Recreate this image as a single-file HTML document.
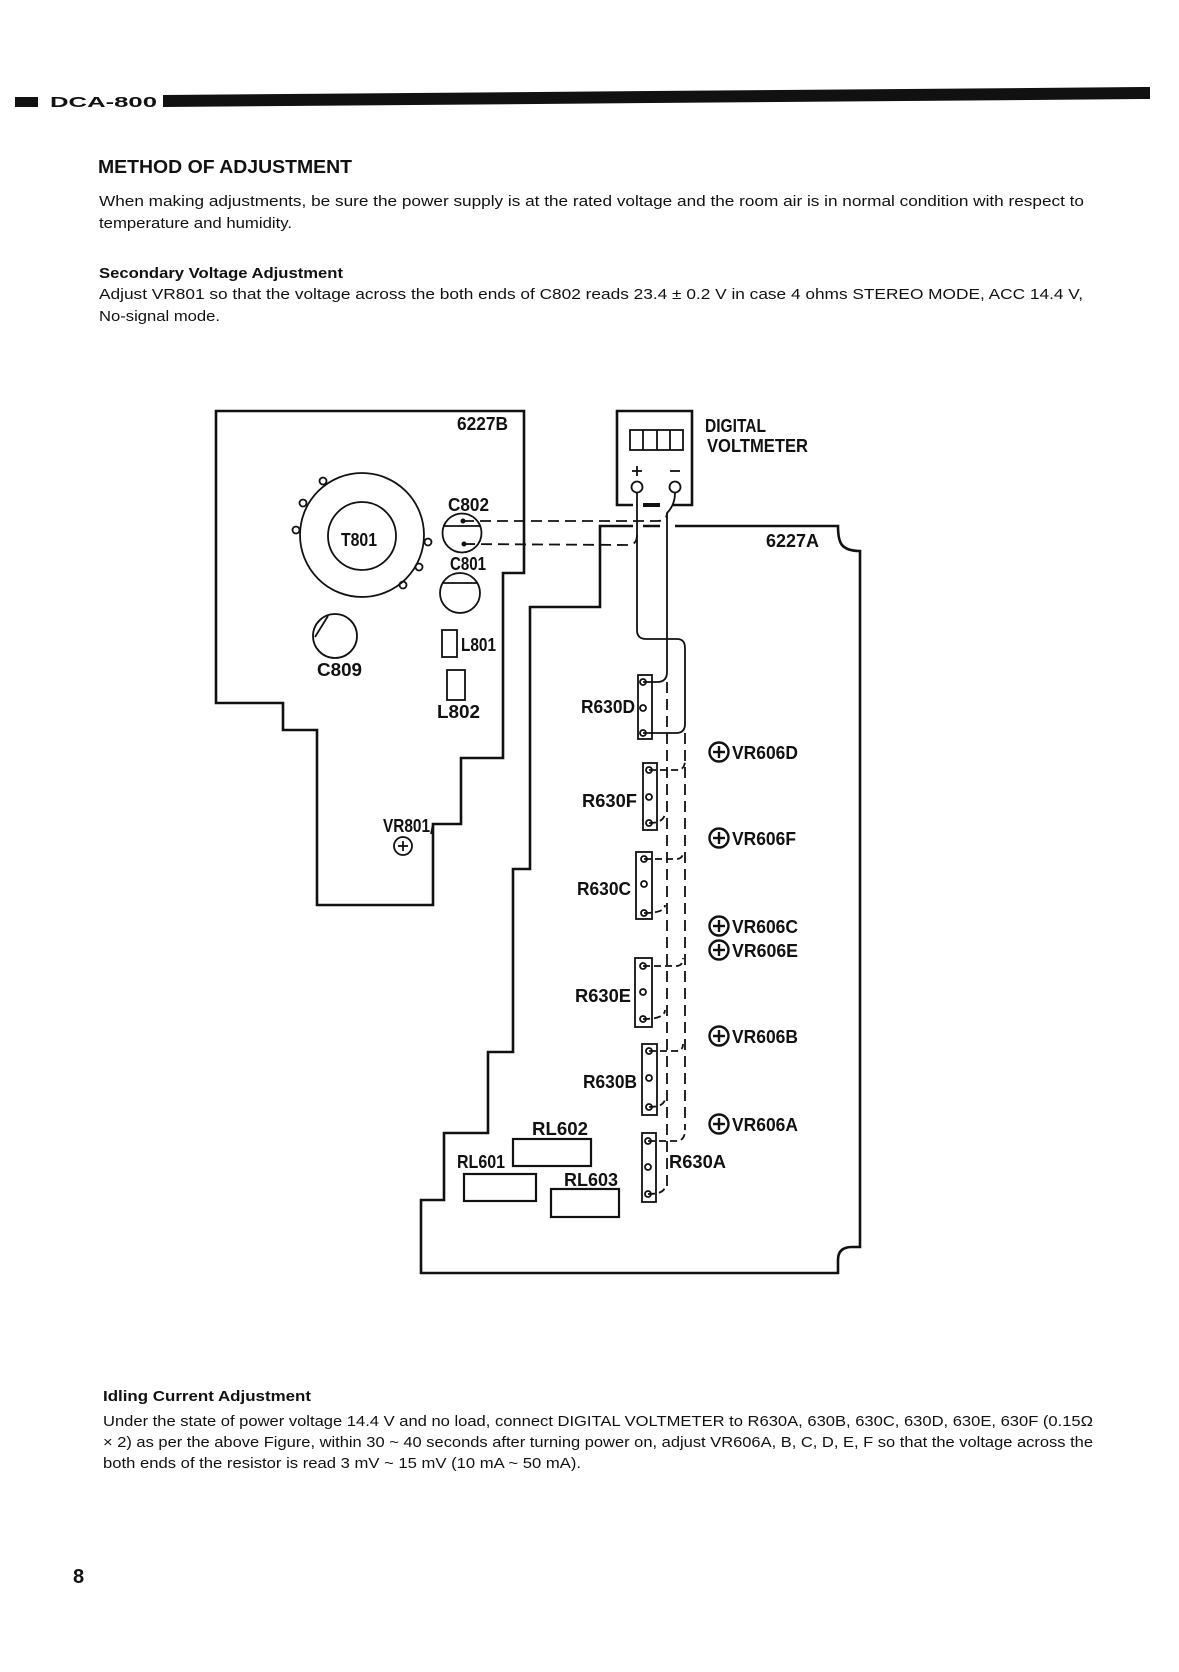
<!DOCTYPE html>
<html><head><meta charset="utf-8"><style>
html,body{margin:0;padding:0;background:#fff;}
svg{display:block;}
text{font-family:"Liberation Sans",sans-serif;fill:#111;}
.l{font-weight:bold;font-size:18px;}
.p{font-size:15px;}
</style></head><body>
<svg width="1179" height="1672" viewBox="0 0 1179 1672" xmlns="http://www.w3.org/2000/svg">
<!-- header -->
<rect x="15" y="97" width="23" height="10" fill="#111"/>
<text x="50" y="107" font-weight="bold" font-size="15" textLength="107" lengthAdjust="spacingAndGlyphs">DCA-800</text>
<polygon points="163,95 1150,87 1150,99 163,107" fill="#111"/>

<text x="98" y="173" font-weight="bold" font-size="18" textLength="254" lengthAdjust="spacingAndGlyphs">METHOD OF ADJUSTMENT</text>
<text class="p" x="99" y="206" textLength="985" lengthAdjust="spacingAndGlyphs">When making adjustments, be sure the power supply is at the rated voltage and the room air is in normal condition with respect to</text>
<text class="p" x="99" y="228" textLength="193" lengthAdjust="spacingAndGlyphs">temperature and humidity.</text>
<text x="99" y="278" font-weight="bold" font-size="15" textLength="244" lengthAdjust="spacingAndGlyphs">Secondary Voltage Adjustment</text>
<text class="p" x="99" y="299" textLength="984" lengthAdjust="spacingAndGlyphs">Adjust VR801 so that the voltage across the both ends of C802 reads 23.4 ± 0.2 V in case 4 ohms STEREO MODE, ACC 14.4 V,</text>
<text class="p" x="99" y="321" textLength="121" lengthAdjust="spacingAndGlyphs">No-signal mode.</text>

<g fill="none" stroke="#111" stroke-width="2.6" stroke-linejoin="miter">
<!-- board 6227B -->
<polygon points="216,411 524,411 524,573 503,573 503,758 461,758 461,824 433,824 433,905 317,905 317,730 283,730 283,703 216,703"/>
<!-- board 6227A -->
<path d="M633,526 L600,526 L600,607 L530,607 L530,869 L513,869 L513,1052 L488,1052 L488,1133 L444,1133 L444,1200 L421,1200 L421,1273 L838,1273 L838,1260 Q838,1247 852,1247 L860,1247 L860,551 Q847,551 842,545 Q838,540 838,526 L675,526"/>
<line x1="643" y1="526" x2="660" y2="526"/>
<!-- voltmeter -->
<polyline points="633,505 617,505 617,411 692,411 692,505 673,505"/>
<line x1="643" y1="505" x2="660" y2="505" stroke-width="4"/>
</g>
<g fill="none" stroke="#111" stroke-width="1.8">
<rect x="630" y="430" width="53" height="20"/>
<line x1="643" y1="430" x2="643" y2="450"/><line x1="657" y1="430" x2="657" y2="450"/><line x1="670" y1="430" x2="670" y2="450"/>
<line x1="632" y1="471" x2="642" y2="471"/><line x1="637" y1="466" x2="637" y2="476"/>
<line x1="670" y1="471" x2="680" y2="471"/>
<circle cx="637" cy="487" r="5.5"/><circle cx="675" cy="487" r="5.5"/>
<!-- T801 -->
<circle cx="362" cy="535" r="62"/>
<circle cx="362" cy="536" r="34"/>
<circle cx="323" cy="481" r="3.5"/><circle cx="303" cy="503" r="3.5"/><circle cx="296" cy="530" r="3.5"/>
<circle cx="428" cy="542" r="3.5"/><circle cx="419" cy="567" r="3.5"/><circle cx="403" cy="585" r="3.5"/>
<!-- C802 -->
<circle cx="462" cy="533" r="19.5"/><line x1="443" y1="526" x2="481" y2="526"/>
<!-- C801 -->
<circle cx="460" cy="593" r="20"/><line x1="442" y1="583" x2="478" y2="583"/>
<!-- C809 -->
<circle cx="335" cy="636" r="22"/><line x1="315" y1="637" x2="328" y2="616"/>
<rect x="442" y="630" width="15" height="27"/>
<rect x="447" y="670" width="18" height="30"/>
<circle cx="403" cy="846" r="9"/><line x1="398" y1="846" x2="408" y2="846"/><line x1="403" y1="841" x2="403" y2="851"/>
<polyline points="431,834 433,824 461,824"/>
<!-- solid wires -->
<path d="M637,493 L637,630 Q637,639 646,639 L677,639 Q685,639 685,648 L685,724 Q685,733 676,733 L643,733"/>
<path d="M675,493 Q675,505 667,513 L667,672 Q667,682 657,682 L643,682"/>
<!-- dashed -->
<g stroke-dasharray="11,6">
<path d="M463,521 L657,521 Q667,521 667,513"/>
<path d="M464,544 L628,545 Q637,545 637,535"/>
<path d="M667,682 L667,1188"/>
<path d="M685,733 L685,1130"/>
</g>
<g stroke-dasharray="7,4">
<path d="M649,770 L677,770 Q685,770 685,760"/>
<path d="M644,859 L676,859 Q683,859 683,852"/>
<path d="M643,966 L676,966 Q683,966 683,958"/>
<path d="M649,1051 L676,1051 Q683,1051 683,1044"/>
<path d="M648,1141 L676,1141 Q685,1141 685,1130"/>
<path d="M649,823 Q665,823 665,812"/>
<path d="M644,913 Q665,913 665,905"/>
<path d="M643,1019 Q665,1019 665,1010"/>
<path d="M649,1107 Q665,1107 665,1098"/>
<path d="M648,1194 Q665,1194 665,1186"/>
</g>
<!-- resistors -->
<rect x="638" y="675" width="14" height="64"/><circle cx="643" cy="682" r="3"/><circle cx="643" cy="708" r="3"/><circle cx="643" cy="733" r="3"/>
<rect x="643" y="763" width="14" height="67"/><circle cx="649" cy="770" r="3"/><circle cx="649" cy="797" r="3"/><circle cx="649" cy="823" r="3"/>
<rect x="636" y="852" width="16" height="67"/><circle cx="644" cy="859" r="3"/><circle cx="644" cy="884" r="3"/><circle cx="644" cy="913" r="3"/>
<rect x="635" y="958" width="17" height="69"/><circle cx="643" cy="966" r="3"/><circle cx="643" cy="992" r="3"/><circle cx="643" cy="1019" r="3"/>
<rect x="642" y="1044" width="15" height="71"/><circle cx="649" cy="1051" r="3"/><circle cx="649" cy="1078" r="3"/><circle cx="649" cy="1107" r="3"/>
<rect x="642" y="1133" width="14" height="69"/><circle cx="648" cy="1141" r="3"/><circle cx="648" cy="1167" r="3"/><circle cx="648" cy="1194" r="3"/>
<!-- relays -->
<rect x="513" y="1139" width="78" height="27" stroke-width="2.2"/>
<rect x="464" y="1174" width="72" height="27" stroke-width="2.2"/>
<rect x="551" y="1189" width="68" height="28" stroke-width="2.2"/>
<!-- VR606 -->
<g stroke-width="2.4">
<circle cx="719" cy="752" r="9.5"/><line x1="713" y1="752" x2="725" y2="752"/><line x1="719" y1="746" x2="719" y2="758"/>
<circle cx="719" cy="838" r="9.5"/><line x1="713" y1="838" x2="725" y2="838"/><line x1="719" y1="832" x2="719" y2="844"/>
<circle cx="719" cy="926" r="9.5"/><line x1="713" y1="926" x2="725" y2="926"/><line x1="719" y1="920" x2="719" y2="932"/>
<circle cx="719" cy="950" r="9.5"/><line x1="713" y1="950" x2="725" y2="950"/><line x1="719" y1="944" x2="719" y2="956"/>
<circle cx="719" cy="1036" r="9.5"/><line x1="713" y1="1036" x2="725" y2="1036"/><line x1="719" y1="1030" x2="719" y2="1042"/>
<circle cx="719" cy="1124" r="9.5"/><line x1="713" y1="1124" x2="725" y2="1124"/><line x1="719" y1="1118" x2="719" y2="1130"/>
</g>
</g>
<circle cx="463" cy="521" r="2.5" fill="#111"/><circle cx="464" cy="544" r="2.5" fill="#111"/>

<!-- labels -->
<text class="l" x="457" y="430" textLength="51" lengthAdjust="spacingAndGlyphs">6227B</text>
<text class="l" x="341" y="546" textLength="36" lengthAdjust="spacingAndGlyphs">T801</text>
<text class="l" x="448" y="511" textLength="41" lengthAdjust="spacingAndGlyphs">C802</text>
<text class="l" x="450" y="570" textLength="36" lengthAdjust="spacingAndGlyphs">C801</text>
<text class="l" x="317" y="676" textLength="45" lengthAdjust="spacingAndGlyphs">C809</text>
<text class="l" x="461" y="651" textLength="35" lengthAdjust="spacingAndGlyphs">L801</text>
<text class="l" x="437" y="718" textLength="43" lengthAdjust="spacingAndGlyphs">L802</text>
<text class="l" x="383" y="832" textLength="47" lengthAdjust="spacingAndGlyphs">VR801</text>
<text class="l" x="705" y="432" textLength="61" lengthAdjust="spacingAndGlyphs">DIGITAL</text>
<text class="l" x="707" y="452" textLength="101" lengthAdjust="spacingAndGlyphs">VOLTMETER</text>
<text class="l" x="766" y="547" textLength="53" lengthAdjust="spacingAndGlyphs">6227A</text>
<text class="l" x="581" y="713" textLength="54" lengthAdjust="spacingAndGlyphs">R630D</text>
<text class="l" x="582" y="807" textLength="55" lengthAdjust="spacingAndGlyphs">R630F</text>
<text class="l" x="577" y="895" textLength="54" lengthAdjust="spacingAndGlyphs">R630C</text>
<text class="l" x="575" y="1002" textLength="56" lengthAdjust="spacingAndGlyphs">R630E</text>
<text class="l" x="583" y="1088" textLength="54" lengthAdjust="spacingAndGlyphs">R630B</text>
<text class="l" x="669" y="1168" textLength="57" lengthAdjust="spacingAndGlyphs">R630A</text>
<text class="l" x="732" y="759" textLength="66" lengthAdjust="spacingAndGlyphs">VR606D</text>
<text class="l" x="732" y="845" textLength="64" lengthAdjust="spacingAndGlyphs">VR606F</text>
<text class="l" x="732" y="933" textLength="66" lengthAdjust="spacingAndGlyphs">VR606C</text>
<text class="l" x="732" y="957" textLength="66" lengthAdjust="spacingAndGlyphs">VR606E</text>
<text class="l" x="732" y="1043" textLength="66" lengthAdjust="spacingAndGlyphs">VR606B</text>
<text class="l" x="732" y="1131" textLength="66" lengthAdjust="spacingAndGlyphs">VR606A</text>
<text class="l" x="532" y="1135" textLength="56" lengthAdjust="spacingAndGlyphs">RL602</text>
<text class="l" x="457" y="1168" textLength="48" lengthAdjust="spacingAndGlyphs">RL601</text>
<text class="l" x="564" y="1186" textLength="54" lengthAdjust="spacingAndGlyphs">RL603</text>

<!-- bottom text -->
<text x="103" y="1401" font-weight="bold" font-size="15" textLength="208" lengthAdjust="spacingAndGlyphs">Idling Current Adjustment</text>
<text class="p" x="103" y="1426" textLength="990" lengthAdjust="spacingAndGlyphs">Under the state of power voltage 14.4 V and no load, connect DIGITAL VOLTMETER to R630A, 630B, 630C, 630D, 630E, 630F (0.15Ω</text>
<text class="p" x="103" y="1447" textLength="990" lengthAdjust="spacingAndGlyphs">× 2)  as per the above Figure, within 30 ~ 40 seconds after turning power on, adjust VR606A, B, C, D, E, F so that the voltage across the</text>
<text class="p" x="103" y="1468" textLength="478" lengthAdjust="spacingAndGlyphs">both  ends of the resistor is read 3 mV ~ 15 mV (10 mA ~ 50 mA).</text>
<text x="73" y="1583" font-size="20" font-weight="bold">8</text>
</svg>
</body></html>
